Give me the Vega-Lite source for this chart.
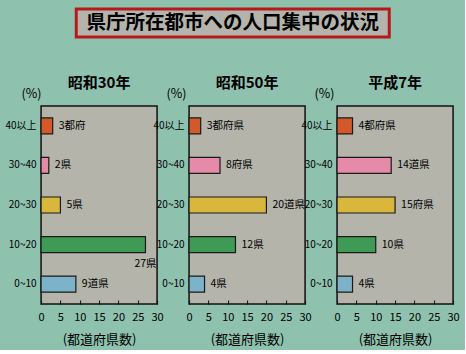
{
  "$schema": "https://vega.github.io/schema/vega-lite/v6.json",
  "background": "#8fc2ae",
  "padding": {"left": 4, "top": 7, "right": 5, "bottom": 3},
  "center": true,
  "spacing": 36,
  "config": {
    "font": "Noto Sans CJK JP",
    "view": {"fill": "#b4b4ab", "stroke": "#111111", "strokeWidth": 1.5},
    "axis": {"labelColor": "#000000", "titleColor": "#000000", "labelFont": "Noto Sans CJK JP", "titleFont": "Noto Sans CJK JP"}
  },
  "datasets": {
    "d": [
      {"year": "昭和30年", "range": "40以上", "count": 3, "label": "3都府"},
      {"year": "昭和30年", "range": "30~40", "count": 2, "label": "2県"},
      {"year": "昭和30年", "range": "20~30", "count": 5, "label": "5県"},
      {"year": "昭和30年", "range": "10~20", "count": 27, "label": "27県"},
      {"year": "昭和30年", "range": "0~10", "count": 9, "label": "9道県"},
      {"year": "昭和50年", "range": "40以上", "count": 3, "label": "3都府県"},
      {"year": "昭和50年", "range": "30~40", "count": 8, "label": "8府県"},
      {"year": "昭和50年", "range": "20~30", "count": 20, "label": "20道県"},
      {"year": "昭和50年", "range": "10~20", "count": 12, "label": "12県"},
      {"year": "昭和50年", "range": "0~10", "count": 4, "label": "4県"},
      {"year": "平成7年", "range": "40以上", "count": 4, "label": "4都府県"},
      {"year": "平成7年", "range": "30~40", "count": 14, "label": "14道県"},
      {"year": "平成7年", "range": "20~30", "count": 15, "label": "15府県"},
      {"year": "平成7年", "range": "10~20", "count": 10, "label": "10県"},
      {"year": "平成7年", "range": "0~10", "count": 4, "label": "4県"}
    ],
    "t": [{"title": "県庁所在都市への人口集中の状況"}],
    "none": []
  },
  "vconcat": [
    {
      "width": 313,
      "height": 28,
      "data": {"name": "t"},
      "view": {"fill": "#b4b4ac", "stroke": "#b51a1a", "strokeWidth": 3},
      "mark": {"type": "text", "fontSize": 19.5, "fontWeight": "bold", "color": "#000000", "baseline": "middle", "align": "center"},
      "encoding": {"text": {"field": "title"}}
    },
    {
      "bounds": "flush",
      "spacing": 32,
      "hconcat": [
        {
          "width": 2, "height": 198,
          "data": {"name": "none"},
          "view": {"fill": null, "stroke": null},
          "mark": "point",
          "encoding": {}
        },
        {
          "width": 116, "height": 198,
          "data": {"name": "d"},
          "transform": [{"filter": "datum.year == '昭和30年'"}],
          "title": {"text": "昭和30年", "frame": "group", "offset": -4, "fontSize": 15, "fontWeight": "bold", "color": "#000000"},
          "encoding": {
            "y": {"field": "range", "type": "nominal", "sort": ["40以上", "30~40", "20~30", "10~20", "0~10"], "scale": {"paddingInner": 0, "paddingOuter": 0},
              "axis": {"title": "(%)", "ticks": false, "domain": false, "labelFontSize": 10, "labelPadding": 5, "titleAngle": 0, "titleAlign": "center", "titleBaseline": "middle", "titleX": -10, "titleY": -13, "titleFontSize": 12.5, "titleFontWeight": "normal"}},
            "x": {"field": "count", "type": "quantitative", "scale": {"domain": [0, 30]},
              "axis": {"title": "(都道府県数)", "values": [0, 5, 10, 15, 20, 25, 30], "grid": false, "domain": false, "tickSize": -4, "tickColor": "#111111", "labelFontSize": 11, "labelPadding": 11, "labelFlush": false, "titleFontSize": 13, "titleFontWeight": "normal", "titlePadding": 11}}
          },
          "layer": [
            {"mark": {"type": "bar", "size": 16, "stroke": "#1a1a1a", "strokeWidth": 1.2},
             "encoding": {"color": {"field": "range", "type": "nominal", "scale": {"domain": ["40以上", "30~40", "20~30", "10~20", "0~10"], "range": ["#d4592a", "#e58aa8", "#d9b73c", "#3f9a55", "#7db3c9"]}, "legend": null}}},
            {"transform": [{"filter": "datum.count < 25"}], "mark": {"type": "text", "align": "left", "dx": 6, "fontSize": 10.5, "color": "#000000"}, "encoding": {"text": {"field": "label"}}},
            {"transform": [{"filter": "datum.count >= 25"}], "mark": {"type": "text", "align": "center", "dy": 19, "fontSize": 10.5, "color": "#000000"}, "encoding": {"text": {"field": "label"}}}
          ]
        },
        {
          "width": 116, "height": 198,
          "data": {"name": "d"},
          "transform": [{"filter": "datum.year == '昭和50年'"}],
          "title": {"text": "昭和50年", "frame": "group", "offset": -4, "fontSize": 15, "fontWeight": "bold", "color": "#000000"},
          "encoding": {
            "y": {"field": "range", "type": "nominal", "sort": ["40以上", "30~40", "20~30", "10~20", "0~10"], "scale": {"paddingInner": 0, "paddingOuter": 0},
              "axis": {"title": "(%)", "ticks": false, "domain": false, "labelFontSize": 10, "labelPadding": 5, "titleAngle": 0, "titleAlign": "center", "titleBaseline": "middle", "titleX": -13, "titleY": -13, "titleFontSize": 12.5, "titleFontWeight": "normal"}},
            "x": {"field": "count", "type": "quantitative", "scale": {"domain": [0, 30]},
              "axis": {"title": "(都道府県数)", "values": [0, 5, 10, 15, 20, 25, 30], "grid": false, "domain": false, "tickSize": -4, "tickColor": "#111111", "labelFontSize": 11, "labelPadding": 11, "labelFlush": false, "titleFontSize": 13, "titleFontWeight": "normal", "titlePadding": 11}}
          },
          "layer": [
            {"mark": {"type": "bar", "size": 16, "stroke": "#1a1a1a", "strokeWidth": 1.2},
             "encoding": {"color": {"field": "range", "type": "nominal", "scale": {"domain": ["40以上", "30~40", "20~30", "10~20", "0~10"], "range": ["#d4592a", "#e58aa8", "#d9b73c", "#3f9a55", "#7db3c9"]}, "legend": null}}},
            {"mark": {"type": "text", "align": "left", "dx": 6, "fontSize": 10.5, "color": "#000000"}, "encoding": {"text": {"field": "label"}}}
          ]
        },
        {
          "width": 116, "height": 198,
          "data": {"name": "d"},
          "transform": [{"filter": "datum.year == '平成7年'"}],
          "title": {"text": "平成7年", "frame": "group", "offset": -4, "fontSize": 15, "fontWeight": "bold", "color": "#000000"},
          "encoding": {
            "y": {"field": "range", "type": "nominal", "sort": ["40以上", "30~40", "20~30", "10~20", "0~10"], "scale": {"paddingInner": 0, "paddingOuter": 0},
              "axis": {"title": "(%)", "ticks": false, "domain": false, "labelFontSize": 10, "labelPadding": 5, "titleAngle": 0, "titleAlign": "center", "titleBaseline": "middle", "titleX": -13, "titleY": -13, "titleFontSize": 12.5, "titleFontWeight": "normal"}},
            "x": {"field": "count", "type": "quantitative", "scale": {"domain": [0, 30]},
              "axis": {"title": "(都道府県数)", "values": [0, 5, 10, 15, 20, 25, 30], "grid": false, "domain": false, "tickSize": -4, "tickColor": "#111111", "labelFontSize": 11, "labelPadding": 11, "labelFlush": false, "titleFontSize": 13, "titleFontWeight": "normal", "titlePadding": 11}}
          },
          "layer": [
            {"mark": {"type": "bar", "size": 16, "stroke": "#1a1a1a", "strokeWidth": 1.2},
             "encoding": {"color": {"field": "range", "type": "nominal", "scale": {"domain": ["40以上", "30~40", "20~30", "10~20", "0~10"], "range": ["#d4592a", "#e58aa8", "#d9b73c", "#3f9a55", "#7db3c9"]}, "legend": null}}},
            {"mark": {"type": "text", "align": "left", "dx": 6, "fontSize": 10.5, "color": "#000000"}, "encoding": {"text": {"field": "label"}}}
          ]
        }
      ]
    }
  ]
}
